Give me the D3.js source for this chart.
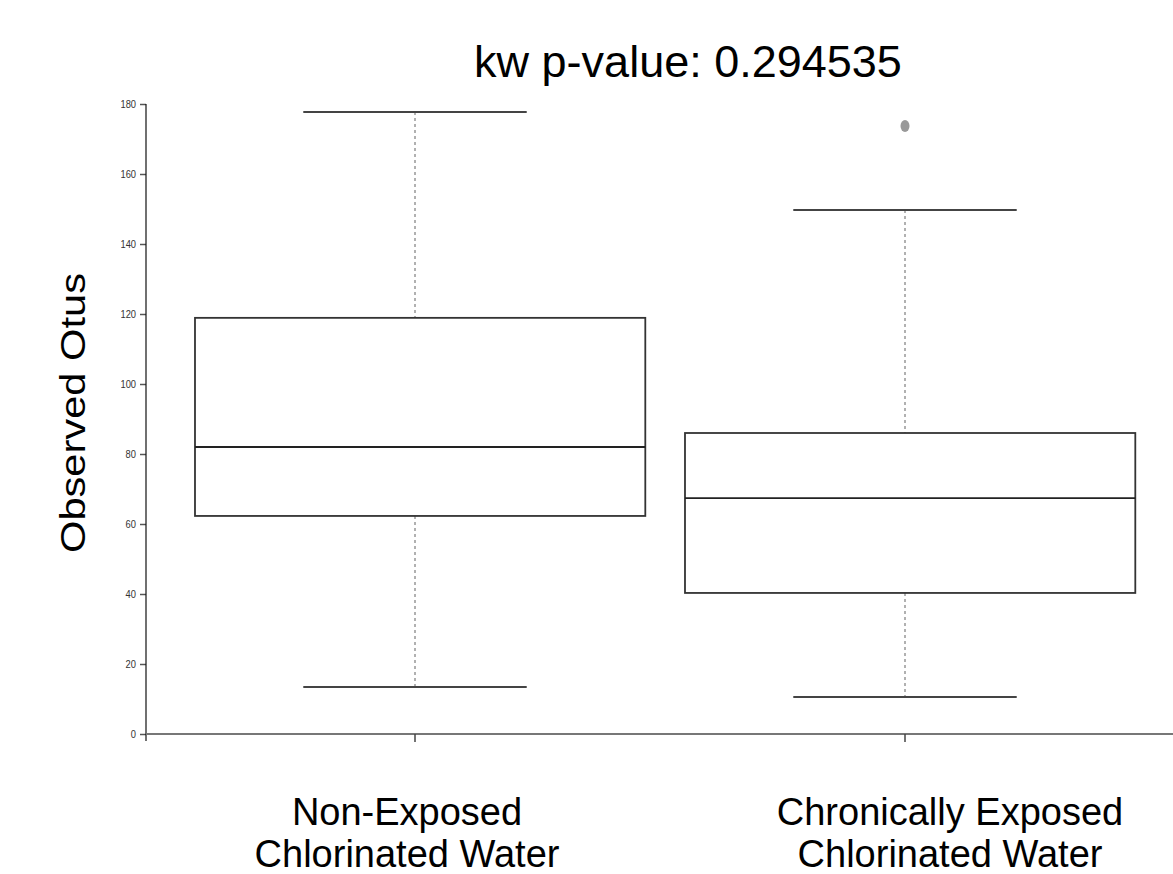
<!DOCTYPE html>
<html>
<head>
<meta charset="utf-8">
<script src="https://cdn.jsdelivr.net/npm/d3@7"></script>
<style>
  body { margin: 0; background: #fff; }
  svg { display: block; font-family: "Liberation Sans", Arial, sans-serif; }
</style>
</head>
<body>
<div id="container"></div>
<script>
/* DATA */
const groups = ["Non-Exposed|Chlorinated Water", "Chronically Exposed|Chlorinated Water"];
const whiskerLow = [13.4, 10.6];
const q1 = [62.3, 40.3];
const medians = [82, 67.4];
const q3 = [118.9, 86];
const whiskerHigh = [177.7, 149.7];
const outliers = [[], [173.7]];
const yTicks = [0, 20, 40, 60, 80, 100, 120, 140, 160, 180];
const title = "kw p-value: 0.294535";
const yLabel = "Observed Otus";

/* CONSTANTS */
const width = 1173, height = 874;
const labelShift = [-8, 45];

const svg = d3.select("#container")
  .append("svg")
  .attr("width", width)
  .attr("height", height);

const x = d3.scalePoint()
  .domain(groups)
  .range([415, 905]);

const step = x(groups[1]) - x(groups[0]);

const y = d3.scaleLinear()
  .domain([0, 180])
  .range([734, 104]);

const boxes = groups.map((g, i) => ({
  g, i,
  lo: whiskerLow[i], q1: q1[i], med: medians[i], q3: q3[i], hi: whiskerHigh[i],
  out: outliers[i]
}));

/* title */
svg.append("text")
  .attr("x", 688)
  .attr("y", 77)
  .attr("text-anchor", "middle")
  .style("font-size", "45px")
  .attr("fill", "#000")
  .text(title);

/* y axis label */
svg.append("text")
  .attr("transform", "translate(85, 413) rotate(-90)")
  .attr("text-anchor", "middle")
  .attr("textLength", 280)
  .attr("lengthAdjust", "spacingAndGlyphs")
  .style("font-size", "35px")
  .text(yLabel);

/* y axis - labels clipped on the left like the original */
svg.append("clipPath").attr("id", "yclip")
  .append("rect").attr("x", 121).attr("y", 0).attr("width", 200).attr("height", height);

const clipG = svg.append("g").attr("clip-path", "url(#yclip)");

const yAxis = clipG.append("g")
  .attr("transform", "translate(146,0)")
  .call(d3.axisLeft(y).tickValues(yTicks).tickSize(6).tickPadding(3));
yAxis.select(".domain").remove();
yAxis.selectAll(".tick line").attr("stroke", "#555").attr("stroke-width", 1.5);
yAxis.selectAll(".tick text")
  .attr("fill", "#333")
  .style("font-size", "11px")
  .attr("transform", "scale(0.85,1)")
  .attr("x", -10 / 0.85);

svg.append("line")
  .attr("x1", 146).attr("x2", 146)
  .attr("y1", y(180)).attr("y2", 741)
  .attr("stroke", "#111")
  .attr("stroke-width", 1.2);

/* x axis */
svg.append("line")
  .attr("x1", 146).attr("x2", width)
  .attr("y1", y(0)).attr("y2", y(0))
  .attr("stroke", "#777")
  .attr("stroke-width", 2.2);

svg.selectAll("line.xtick")
  .data(groups)
  .join("line")
  .attr("class", "xtick")
  .attr("x1", d => x(d)).attr("x2", d => x(d))
  .attr("y1", y(0)).attr("y2", y(0) + 8)
  .attr("stroke", "#444")
  .attr("stroke-width", 1.5);

/* x labels */
svg.selectAll("text.xlabel")
  .data(groups)
  .join("text")
  .attr("class", "xlabel")
  .attr("text-anchor", "middle")
  .style("font-size", "38px")
  .attr("fill", "#000")
  .each(function (d, i) {
    const parts = d.split("|");
    d3.select(this).selectAll("tspan")
      .data(parts)
      .join("tspan")
      .attr("x", x(d) + labelShift[i])
      .attr("y", (p, j) => 825 + j * 42)
      .text(p => p);
  });

/* box plots */
const bx = svg.selectAll("g.box")
  .data(boxes)
  .join("g")
  .attr("class", "box");

// dashed whiskers
bx.append("line")
  .attr("x1", d => x(d.g)).attr("x2", d => x(d.g))
  .attr("y1", d => y(d.hi)).attr("y2", d => y(d.q3))
  .attr("stroke", "#888").attr("stroke-width", 1.3).attr("stroke-dasharray", "3,3");
bx.append("line")
  .attr("x1", d => x(d.g)).attr("x2", d => x(d.g))
  .attr("y1", d => y(d.q1)).attr("y2", d => y(d.lo))
  .attr("stroke", "#888").attr("stroke-width", 1.3).attr("stroke-dasharray", "3,3");

// whisker caps
bx.selectAll("line.cap")
  .data(d => [d.hi, d.lo].map(v => ({ g: d.g, v })))
  .join("line")
  .attr("class", "cap")
  .attr("x1", d => x(d.g) - step * 0.228)
  .attr("x2", d => x(d.g) + step * 0.228)
  .attr("y1", d => y(d.v)).attr("y2", d => y(d.v))
  .attr("stroke", "#444").attr("stroke-width", 2);

// box
bx.append("rect")
  .attr("x", d => x(d.g) - step * 0.449)
  .attr("width", step * 0.919)
  .attr("y", d => y(d.q3))
  .attr("height", d => y(d.q1) - y(d.q3))
  .attr("fill", "none")
  .attr("stroke", "#333")
  .attr("stroke-width", 1.8);

// median
bx.append("line")
  .attr("x1", d => x(d.g) - step * 0.449)
  .attr("x2", d => x(d.g) + step * 0.47)
  .attr("y1", d => y(d.med)).attr("y2", d => y(d.med))
  .attr("stroke", "#222").attr("stroke-width", 1.8);

// outliers
bx.selectAll("ellipse.out")
  .data(d => d.out.map(v => ({ g: d.g, v })))
  .join("ellipse")
  .attr("class", "out")
  .attr("cx", d => x(d.g))
  .attr("cy", d => y(d.v))
  .attr("rx", 4.5).attr("ry", 6)
  .attr("fill", "#999");
</script>
</body>
</html>
